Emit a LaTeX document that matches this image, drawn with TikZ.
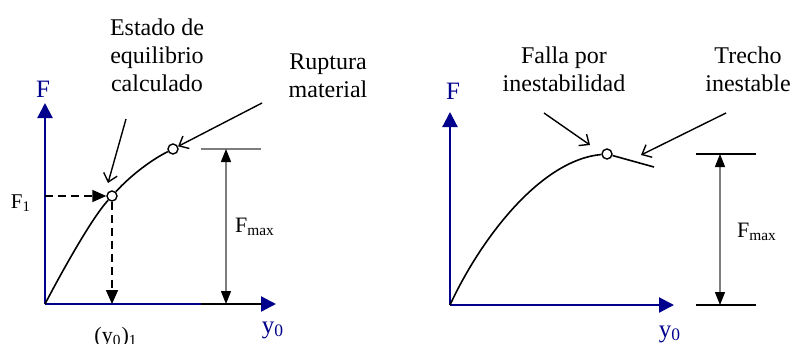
\documentclass[tikz,border=0pt]{standalone}
\usepackage{fontspec}
\setmainfont{Liberation Serif}
\usetikzlibrary{arrows.meta,positioning,calc}
\definecolor{axisblue}{RGB}{0,0,140}
\definecolor{dimgrey}{RGB}{125,125,125}

\begin{document}
\begin{tikzpicture}[x=0.5pt, y=-0.5pt,
    axis/.style={draw=axisblue, line width=1.1pt, -{Triangle[length=7.5pt,width=7.5pt,color=axisblue]}},
    axislabel/.style={text=axisblue, font=\fontsize{12.5}{15}\selectfont, inner sep=0pt},
    curve/.style={line width=0.8pt},
    eqdot/.style={circle, draw, fill=white, line width=0.7pt, minimum size=5pt, inner sep=0pt},
    note/.style={align=center, font=\fontsize{12}{14}\selectfont, inner sep=0pt},
    pointer/.style={line width=0.7pt, -{Straight Barb[length=4pt,width=7pt]}},
    guide/.style={line width=0.8pt, dash pattern=on 4pt off 2.5pt, -{Triangle[length=7pt,width=6pt]}},
    dimline/.style={draw=dimgrey, line width=0.6pt,
        {Triangle[length=6.5pt,width=5pt,color=black]}-{Triangle[length=6.5pt,width=5pt,color=black]}},
    refline/.style={line width=0.7pt},
    dimlabel/.style={font=\fontsize{11}{13}\selectfont, inner sep=0pt}
]
\useasboundingbox (0,0) rectangle (792,343);

% left: material failure
\coordinate (oL) at (45,304);
\coordinate (yL) at (45,103);
\coordinate (xL) at (276,304);
\node[eqdot] (eq) at (112,196) {};
\node[eqdot] (rup) at (173,149) {};
\draw[axis] (oL) -- (yL);
\draw[axis] (oL) -- (xL);
\node[axislabel] (FL) at (43,89) {F};
\node[axislabel, anchor=base] (y0L) at (273,333) {y\textsubscript{0}};

\draw[curve] (oL) .. controls (57,281) and (90,220) .. (eq);
\draw[curve] (eq) .. controls (132,174) and (153,159) .. (rup);

\coordinate (F1pt) at (45,196);
\coordinate (y1pt) at (112,304);
\draw[guide] (F1pt) -- (eq);
\draw[guide] (eq) -- (y1pt);
\node[font=\fontsize{10.5}{12}\selectfont, inner sep=0pt] (F1) at (21,203) {F\textsubscript{1}};
\node[font=\fontsize{11}{13}\selectfont, inner sep=0pt, anchor=base] (y01) at (116,342) {(y\textsubscript{0})\textsubscript{1}};

\node[note] (eqtext) at (157,55) {Estado de\\equilibrio\\calculado};
\coordinate (eqfrom) at (126,119);
\coordinate (eqto) at (108,183);
\draw[pointer] (eqfrom) -- (eqto);
\node[note] (ruptext) at (328,76) {Ruptura\\material};
\coordinate (rupfrom) at (262,103);
\draw[pointer] (rupfrom) -- (rup);

\coordinate (topL) at (226,149);
\coordinate (botL) at (226,304);
\draw[refline, draw=dimgrey] (201,149) -- (261,149);
\draw[refline] (201,304) -- (262,304);
\draw[dimline] (topL) -- (botL);
\node[dimlabel] (FmaxL) at (255,227) {F\textsubscript{max}};

% right: loss of stability
\coordinate (oR) at (450,305);
\coordinate (yR) at (450,112);
\coordinate (xR) at (674,305);
\node[eqdot] (peak) at (607,154) {};
\coordinate (tail) at (654,167);
\draw[axis] (oR) -- (yR);
\draw[axis] (oR) -- (xR);
\node[axislabel] (FR) at (453,91) {F};
\node[axislabel, anchor=base] (y0R) at (670,337) {y\textsubscript{0}};

\draw[curve] (oR) .. controls (480,240) and (540,160) .. (peak);
\draw[curve] (peak) -- (tail);

\node[note] (falltext) at (564,69) {Falla por\\inestabilidad};
\coordinate (fallfrom) at (544,113);
\coordinate (fallto) at (590,145);
\draw[pointer] (fallfrom) -- (fallto);
\node[note] (trechtext) at (748,69) {Trecho\\inestable};
\coordinate (trechfrom) at (726,113);
\coordinate (trechto) at (641,155);
\draw[pointer] (trechfrom) -- (trechto);

\coordinate (topR) at (720,154);
\coordinate (botR) at (720,305);
\draw[refline] (696,154) -- (756,154);
\draw[refline] (696,305) -- (756,305);
\draw[dimline] (topR) -- (botR);
\node[dimlabel] (FmaxR) at (757,232) {F\textsubscript{max}};
\end{tikzpicture}
\end{document}
